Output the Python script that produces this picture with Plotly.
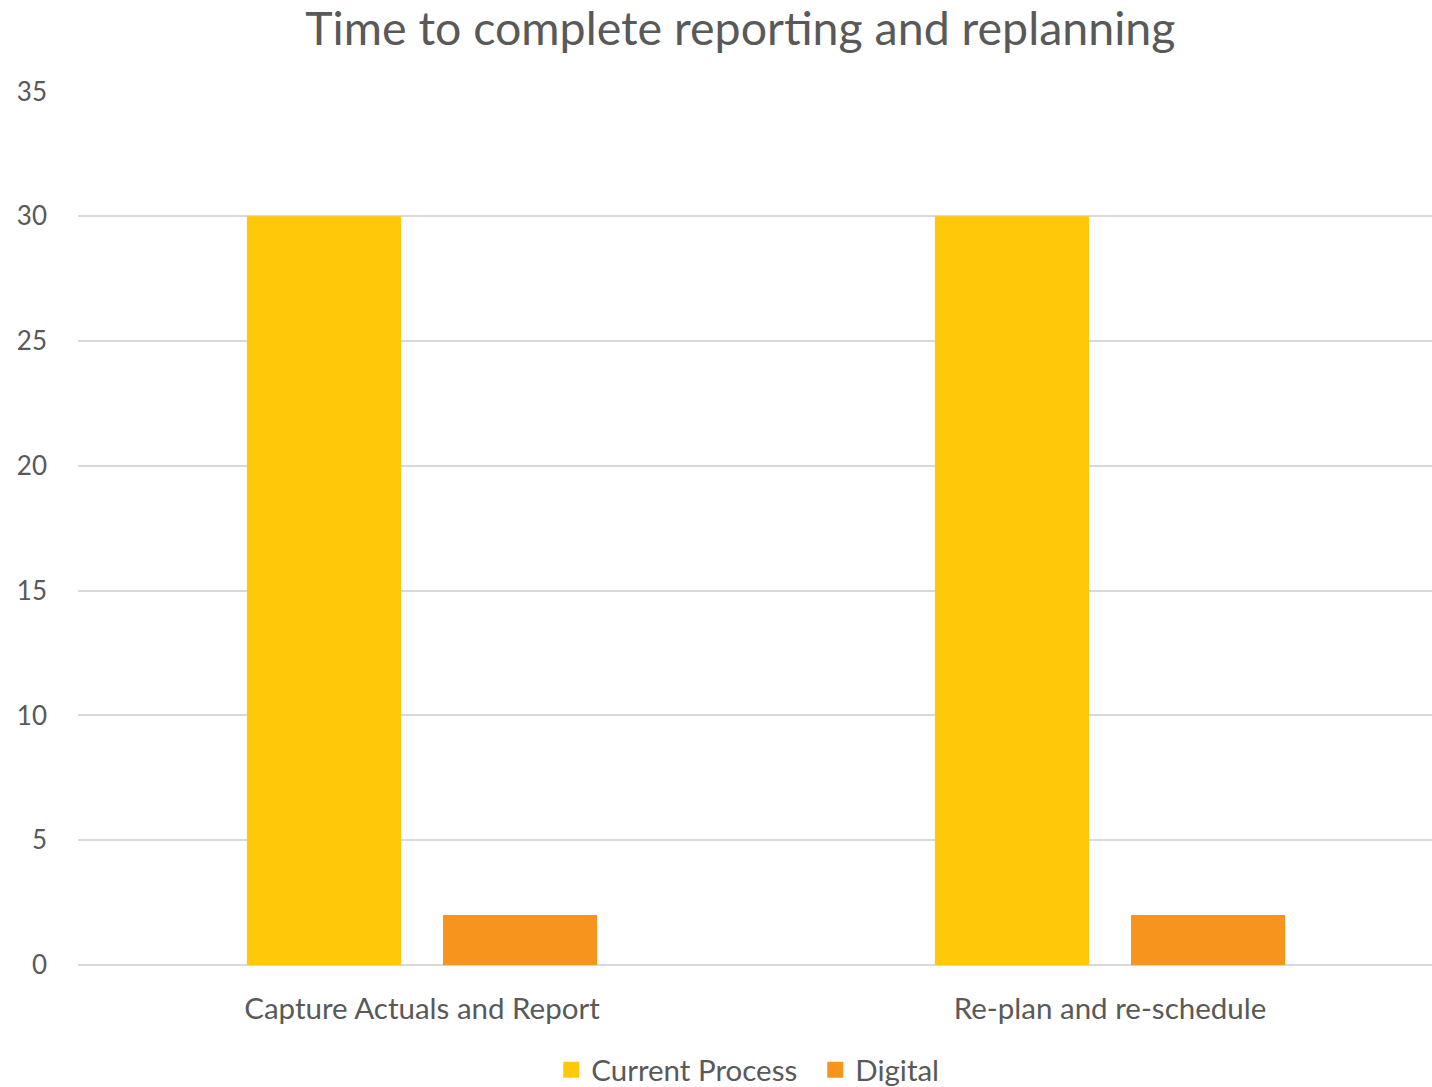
import plotly.graph_objects as go

# Chart data
categories = ["Capture Actuals and Report", "Re-plan and re-schedule"]
current_process = [30, 30]
digital = [2, 2]
y_ticks = [0, 5, 10, 15, 20, 25, 30, 35]

TEXT = "#595959"
GRID = "#D9D9D9"
FONT = "Lato, 'Open Sans', sans-serif"
YELLOW = "#FFC90A"
ORANGE = "#F7941E"

BAR_W = 0.224

fig = go.Figure()
fig.add_trace(go.Bar(name="Current Process", x=categories, y=current_process,
                     width=BAR_W, offset=-0.2545, showlegend=False,
                     marker=dict(color=YELLOW, line=dict(width=0))))
fig.add_trace(go.Bar(name="Digital", x=categories, y=digital,
                     width=BAR_W, offset=0.0305, showlegend=False,
                     marker=dict(color=ORANGE, line=dict(width=0))))

# legend entries with larger square swatches
for name, color in [("Current Process", YELLOW), ("Digital", ORANGE)]:
    fig.add_trace(go.Scatter(name=name, x=[None], y=[None], mode="markers",
                             marker=dict(symbol="square", size=16, color=color),
                             showlegend=True))

fig.update_layout(
    width=1432, height=1087,
    paper_bgcolor="white", plot_bgcolor="white",
    margin=dict(l=78, r=0, t=91, b=122),
    barmode="overlay",
    font=dict(family=FONT, color=TEXT),
    title=dict(text="Time to complete reporting and replanning",
               font=dict(size=46.5, color=TEXT, family=FONT),
               x=0.517, xanchor="center", xref="container",
               y=1 - 29 / 1087, yanchor="middle", yref="container"),
    legend=dict(orientation="h", x=0.5693, xanchor="center", xref="container",
                y=1 - 1070 / 1087, yanchor="middle", yref="container",
                font=dict(size=29.5, color=TEXT), itemwidth=30,
                entrywidth=219, traceorder="normal"),
    xaxis=dict(range=[-0.5, 1.468], showgrid=False, showline=False,
               ticks="", tickfont=dict(size=29.5, color=TEXT),
               ticklabelstandoff=23),
    yaxis=dict(range=[0, 35.02], tickvals=y_ticks, showgrid=True,
               gridcolor=GRID, gridwidth=1.5, zeroline=True,
               zerolinecolor=GRID, zerolinewidth=2, showline=False,
               ticks="", tickfont=dict(size=26, color=TEXT),
               ticklabelstandoff=30),
)

fig.write_html("out.html")
